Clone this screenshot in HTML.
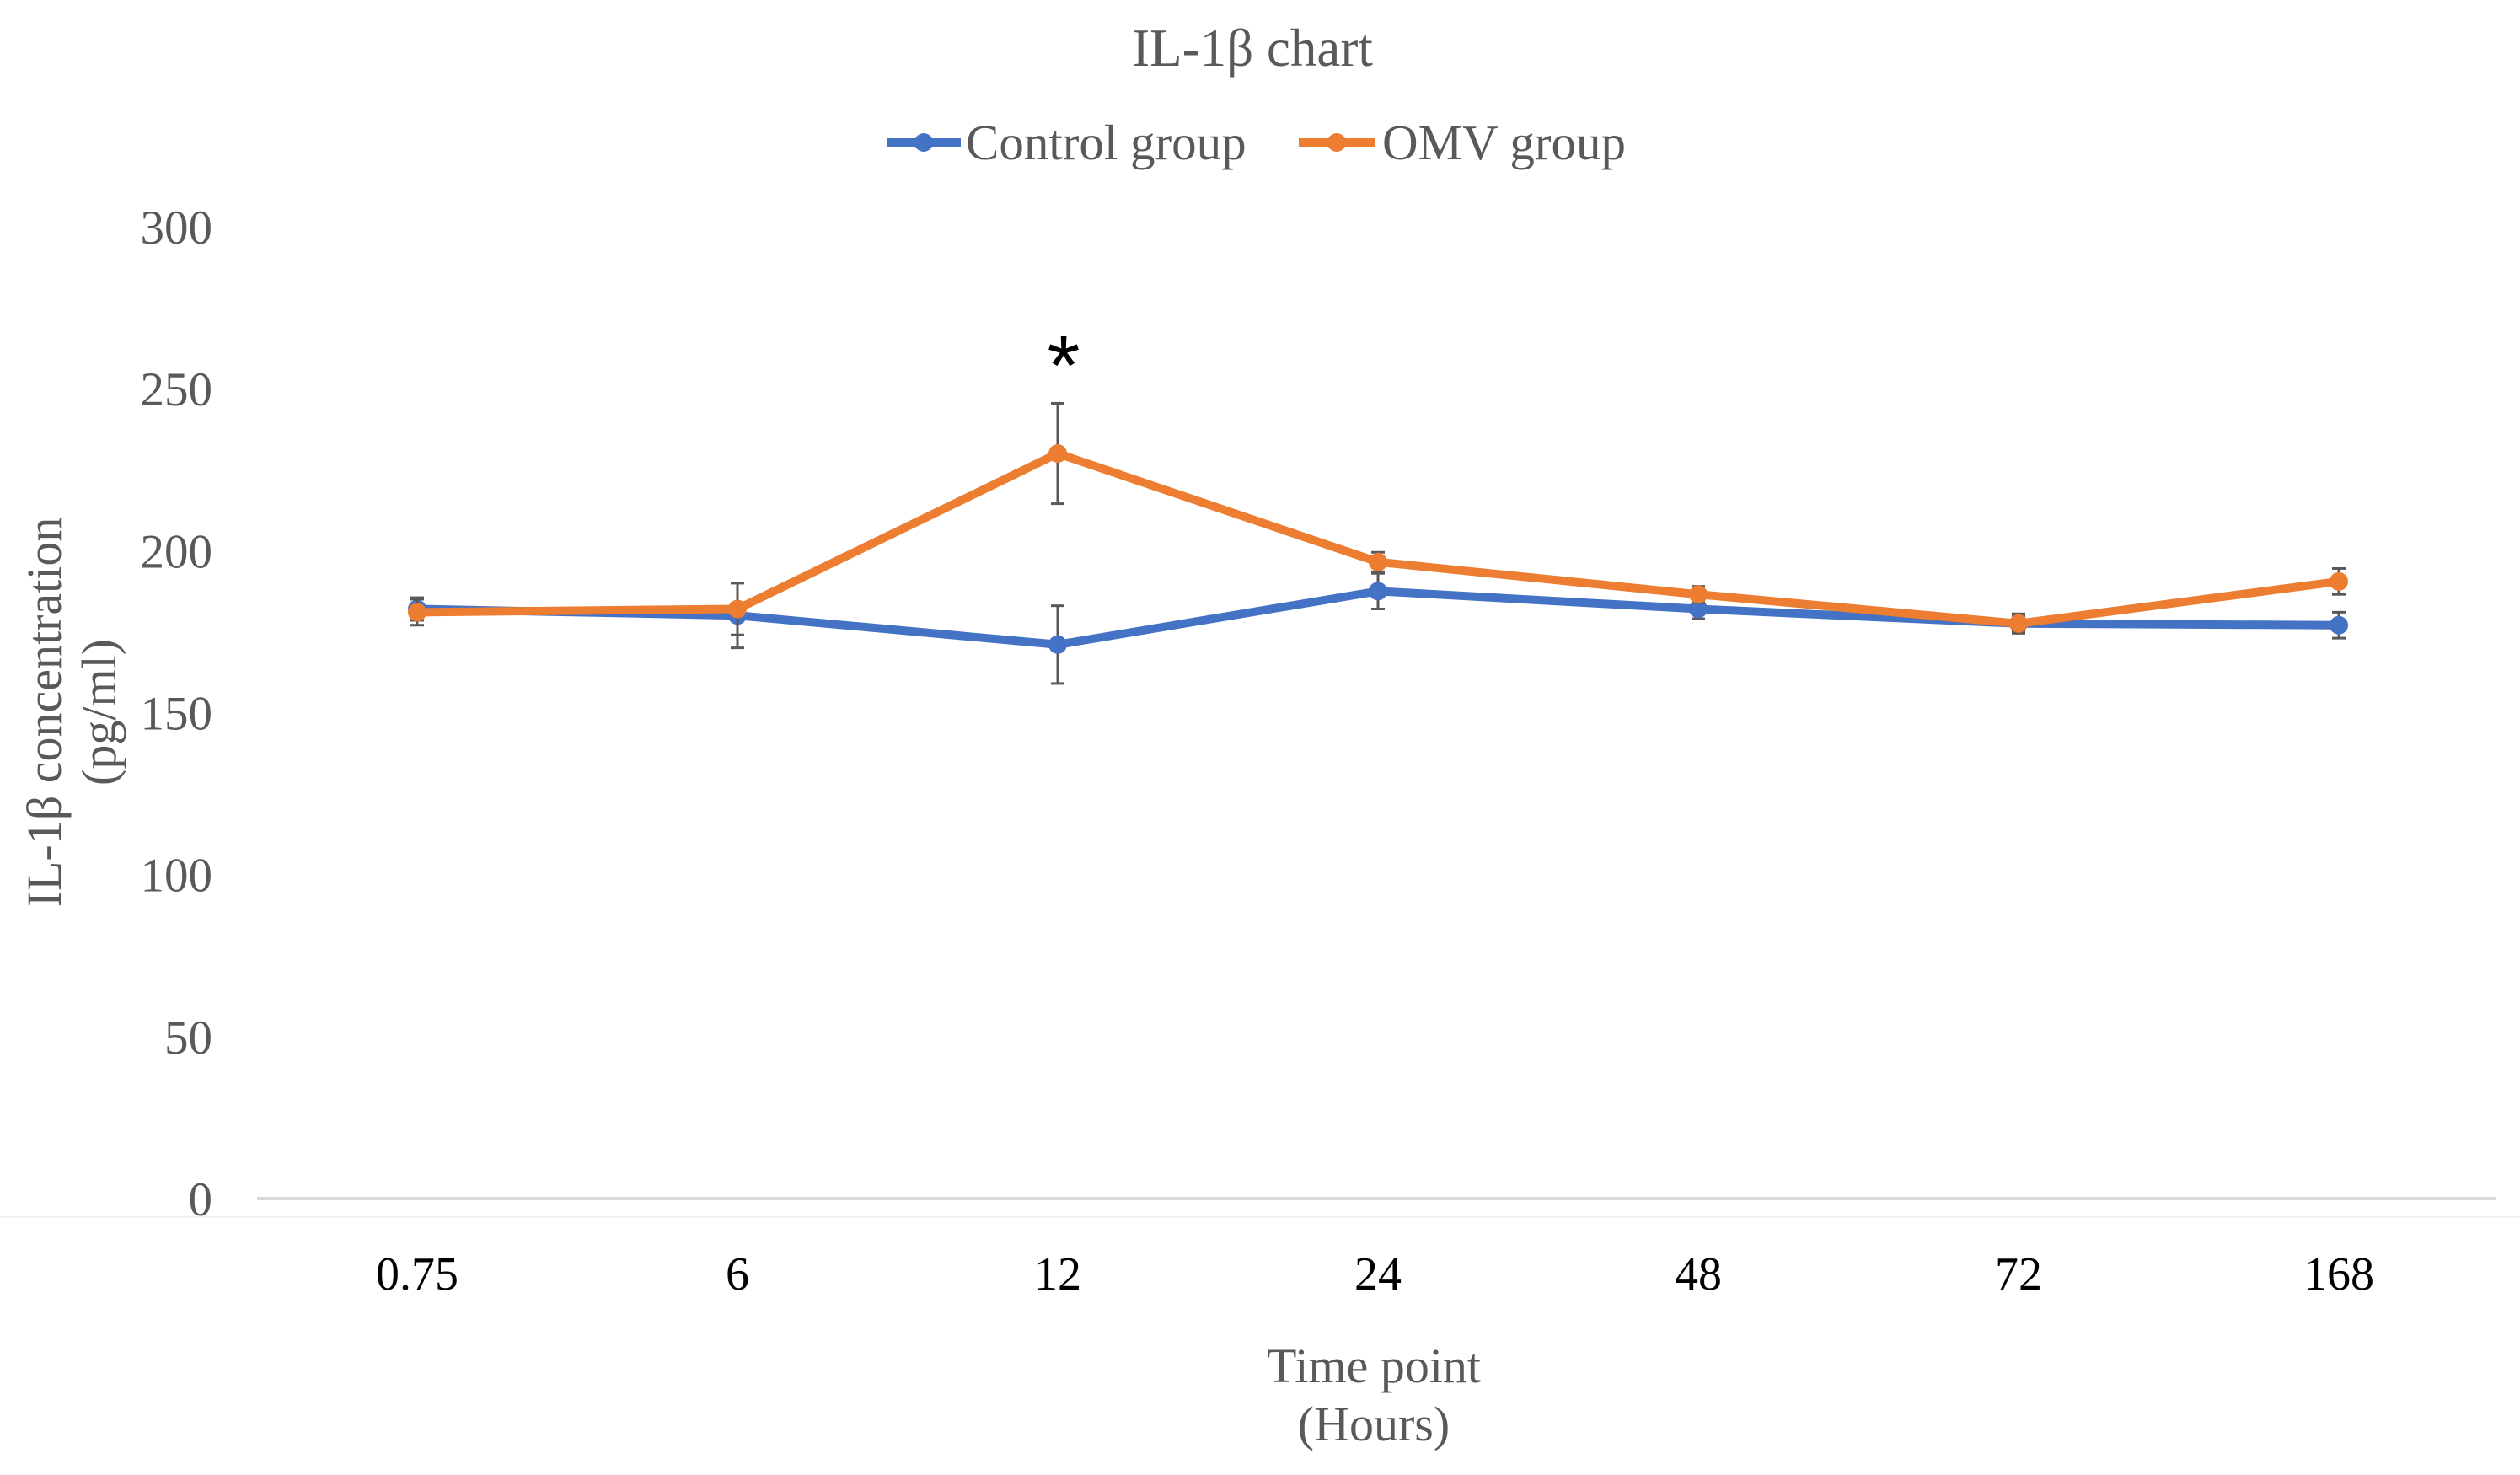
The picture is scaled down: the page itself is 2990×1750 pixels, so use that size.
<!DOCTYPE html>
<html><head><meta charset="utf-8"><style>
html,body{margin:0;padding:0;background:#fff;}
svg{display:block;font-family:"Liberation Serif",serif;}
</style></head><body>
<svg id="chart" width="2990" height="1750" viewBox="0 0 2990 1750">
<text x="1486" y="78" text-anchor="middle" font-size="63" fill="#595959">IL-1β chart</text>
<g>
 <g>
  <line x1="1053" y1="169" x2="1140" y2="169" stroke="#4472C4" stroke-width="10"/>
  <circle cx="1096" cy="169" r="11" fill="#4472C4"/>
  <text x="1146" y="189" font-size="59" fill="#595959">Control group</text>
 </g>
 <g>
  <line x1="1541" y1="169" x2="1632" y2="169" stroke="#ED7D31" stroke-width="10"/>
  <circle cx="1586" cy="169" r="11" fill="#ED7D31"/>
  <text x="1640" y="189" font-size="59" fill="#595959">OMV group</text>
 </g>
</g>
<g id="yticks"></g>
<g id="xticks"></g>
<line x1="305" y1="1422" x2="2962" y2="1422" stroke="#D9D9D9" stroke-width="4"/>
<line x1="0" y1="1444" x2="2990" y2="1444" stroke="#F2F2F2" stroke-width="2"/>
<g id="series"></g>
<text x="1262" y="468" text-anchor="middle" font-size="100" font-family="Liberation Sans, sans-serif" fill="#000">*</text>
<text x="1630" y="1640" text-anchor="middle" font-size="58" fill="#595959">Time point</text>
<text x="1630" y="1709" text-anchor="middle" font-size="58" fill="#595959">(Hours)</text>
<g transform="translate(0,845) rotate(-90)">
 <text x="0" y="72" text-anchor="middle" font-size="58" fill="#595959">IL-1β concentration</text>
 <text x="0" y="137" text-anchor="middle" font-size="58" fill="#595959">(pg/ml)</text>
</g>
</svg>
<script>
const categories = ["0.75","6","12","24","48","72","168"];
const controlValues = [182, 180, 171, 187.5, 182, 177.5, 177];
const controlErrors = [3.5, 10, 12, 5.5, 3, 3, 4];
const omvValues = [181, 182, 230, 196.5, 186.5, 177.5, 190.5];
const omvErrors = [4, 8, 15.5, 3, 2.5, 2.5, 4];
const yTicks = [0, 50, 100, 150, 200, 250, 300];

const NS = "http://www.w3.org/2000/svg";
const plotL = 305, plotR = 2965, yTop = 269, yBot = 1422, yMax = 300;
function xPos(i){ return plotL + (plotR - plotL) / categories.length * (i + 0.5); }
function yPos(v){ return yBot - (v / yMax) * (yBot - yTop); }
function mk(tag, attrs, parent){ const e = document.createElementNS(NS, tag); for (const k in attrs) e.setAttribute(k, attrs[k]); parent.appendChild(e); return e; }

const yg = document.getElementById("yticks");
yTicks.forEach(t => {
  const e = mk("text", {x: 252, y: yPos(t) + 20, "text-anchor": "end", "font-size": 57, fill: "#595959"}, yg);
  
  
  e.textContent = t;
});
const xg = document.getElementById("xticks");
categories.forEach((c, i) => {
  const e = mk("text", {x: xPos(i), y: 1530, "text-anchor": "middle", "font-size": 56, fill: "#000"}, xg);
  
  
  e.textContent = c;
});

const sg = document.getElementById("series");
function drawSeries(vals, errs, color, name){
  const g = mk("g", {}, sg);
  
  
  const pts = vals.map((v, i) => xPos(i) + "," + yPos(v)).join(" ");
  const pl = mk("polyline", {points: pts, fill: "none", stroke: color, "stroke-width": 10, "stroke-linejoin": "round"}, g);
  
  
  vals.forEach((v, i) => {
    const x = xPos(i), y1 = yPos(v + errs[i]), y2 = yPos(v - errs[i]);
    const eg = mk("g", {stroke: "#595959", "stroke-width": 3}, g);
    
    
    mk("line", {x1: x, y1: y1, x2: x, y2: y2}, eg);
    mk("line", {x1: x - 8, y1: y1, x2: x + 8, y2: y1}, eg);
    mk("line", {x1: x - 8, y1: y2, x2: x + 8, y2: y2}, eg);
  });
  vals.forEach((v, i) => {
    const c = mk("circle", {cx: xPos(i), cy: yPos(v), r: 11, fill: color}, g);
    
    
  });
}
drawSeries(controlValues, controlErrors, "#4472C4", "control");
drawSeries(omvValues, omvErrors, "#ED7D31", "omv");
</script>
</body></html>
